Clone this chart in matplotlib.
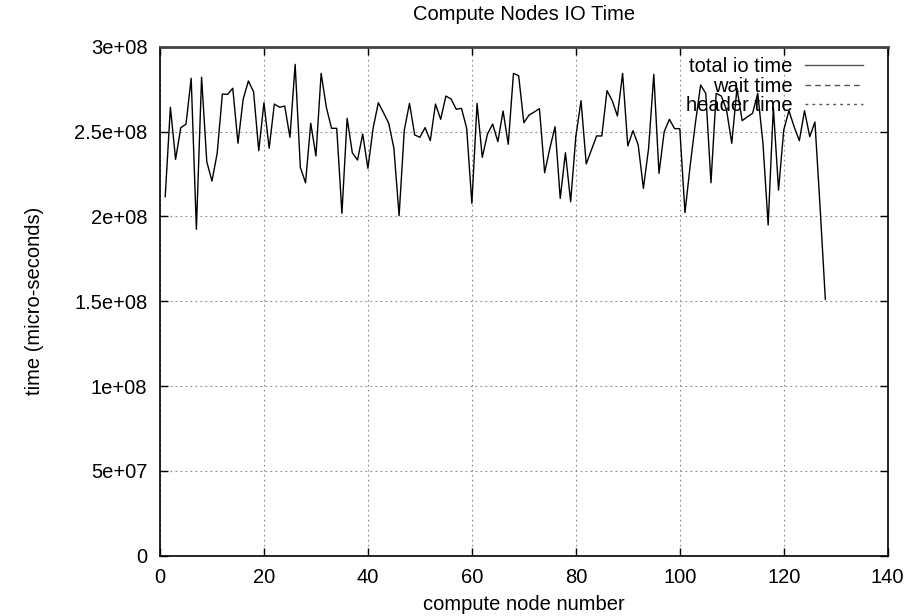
import matplotlib
matplotlib.use("Agg")
import matplotlib.pyplot as plt
from matplotlib.lines import Line2D

plt.rcParams['font.family'] = ['Liberation Sans', 'DejaVu Sans']

title = "Compute Nodes IO Time"
xlabel = "compute node number"
ylabel = "time (micro-seconds)"
series_labels = ["total io time", "wait time", "header time"]

nodes = list(range(1, 129))
total_io_e8 = [
    2.116, 2.643, 2.336, 2.523, 2.543, 2.814, 1.924, 2.820, 2.322, 2.208,
    2.372, 2.721, 2.719, 2.755, 2.431, 2.690, 2.798, 2.735, 2.387, 2.670,
    2.401, 2.662, 2.643, 2.650, 2.466, 2.896, 2.289, 2.198, 2.549, 2.356,
    2.843, 2.643, 2.519, 2.519, 2.018, 2.578, 2.375, 2.332, 2.485, 2.283,
    2.519, 2.670, 2.611, 2.549, 2.401, 2.004, 2.509, 2.666, 2.480, 2.466,
    2.523, 2.446, 2.662, 2.572, 2.709, 2.692, 2.631, 2.637, 2.519, 2.077,
    2.666, 2.348, 2.485, 2.544, 2.440, 2.621, 2.425, 2.843, 2.829, 2.552,
    2.597, 2.615, 2.635, 2.257, 2.401, 2.528, 2.106, 2.375, 2.086, 2.470,
    2.682, 2.309, 2.391, 2.474, 2.474, 2.741, 2.682, 2.592, 2.843, 2.415,
    2.505, 2.421, 2.165, 2.401, 2.837, 2.254, 2.499, 2.572, 2.517, 2.517,
    2.022, 2.300, 2.549, 2.774, 2.725, 2.198, 2.725, 2.709, 2.627, 2.431,
    2.755, 2.564, 2.587, 2.607, 2.725, 2.431, 1.949, 2.643, 2.155, 2.509,
    2.623, 2.528, 2.446, 2.623, 2.470, 2.556, 2.050, 1.511,
]
total_io = [v * 1e8 for v in total_io_e8]

xticks = [0, 20, 40, 60, 80, 100, 120, 140]
yticks = [0, 5e7, 1e8, 1.5e8, 2e8, 2.5e8, 3e8]
ytick_labels = ["0", "5e+07", "1e+08", "1.5e+08", "2e+08", "2.5e+08", "3e+08"]

FS = 14.5

fig = plt.figure(figsize=(9.18, 6.16), dpi=100)
ax = fig.add_axes([160/918, 1 - 555.7/616, (887.7-160)/918, (555.7-46.7)/616])

ax.plot(nodes, total_io, color="black", lw=1.0)

ax.set_xlim(0, 140)
ax.set_ylim(0, 3e8)
ax.set_xticks(xticks)
ax.set_xticklabels([str(t) for t in xticks])
ax.set_yticks(yticks)
ax.set_yticklabels(ytick_labels)

ax.grid(True, color="#888888", linestyle=(0, (1.5, 3)), lw=0.8)
ax.tick_params(direction="in", length=6, width=1.0, labelsize=FS,
               top=True, right=True, pad=9)
for s in ax.spines.values():
    s.set_linewidth(1.2)
    s.set_color("black")
ax.spines['top'].set_color("#444444")
ax.spines['top'].set_linewidth(2)

ax.set_xlabel(xlabel, fontsize=FS)
ax.set_ylabel(ylabel, fontsize=FS)
ax.xaxis.set_label_coords(0.5, (555.7 - 595) / 509, transform=ax.transAxes)
ax.yaxis.set_label_coords((44 - 160) / 727.7, 0.5, transform=ax.transAxes)
fig.text(524/918, 1 - 15/616, title, ha="center", va="center", fontsize=FS)

handles = [
    Line2D([], [], color="#555555", lw=1.0, linestyle="-"),
    Line2D([], [], color="#555555", lw=1.0, linestyle=(0, (4, 3))),
    Line2D([], [], color="#555555", lw=1.0, linestyle=(0, (2, 3))),
]
leg = ax.legend(handles, series_labels, loc="upper right", frameon=False,
                markerfirst=False, fontsize=FS, handlelength=2.9,
                handletextpad=0.6, labelspacing=0.03, borderpad=0,
                borderaxespad=0,
                bbox_to_anchor=((863 - 160) / 727.7, 1 - (57 - 46.7) / 509))

fig.savefig("out.png", dpi=100)
